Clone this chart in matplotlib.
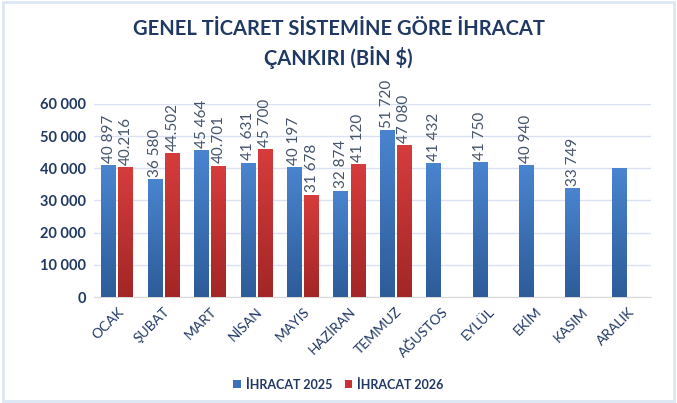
import numpy as np
import matplotlib
matplotlib.use('Agg')
import matplotlib.pyplot as plt
from matplotlib.patches import Rectangle
from matplotlib.colors import LinearSegmentedColormap

plt.rcParams['font.family'] = ['Lato', 'DejaVu Sans']

months = ['OCAK', 'ŞUBAT', 'MART', 'NİSAN', 'MAYIS', 'HAZİRAN', 'TEMMUZ',
          'AĞUSTOS', 'EYLÜL', 'EKİM', 'KASIM', 'ARALIK']
exp2025 = [40897, 36580, 45464, 41631, 40197, 32874, 51720,
           41432, 41750, 40940, 33749, 39900]
lab2025 = ['40 897', '36 580', '45 464', '41 631', '40 197', '32 874', '51 720',
           '41 432', '41 750', '40 940', '33 749', '']
exp2026 = [40216, 44502, 40701, 45700, 31678, 41120, 47080]
lab2026 = ['40.216', '44.502', '40.701', '45 700', '31 678', '41 120', '47 080']
yticks = [0, 10000, 20000, 30000, 40000, 50000, 60000]
ytlabels = ['0', '10 000', '20 000', '30 000', '40 000', '50 000', '60 000']

navy = '#1F3864'
lblc = '#44546A'
blue_cm = LinearSegmentedColormap.from_list('b', ['#2D5C99', '#4A84CF'])
red_cm = LinearSegmentedColormap.from_list('r', ['#A32626', '#D63C3C'])

fig = plt.figure(figsize=(6.77, 4.03), dpi=100)
fig.patches.append(Rectangle((0.004, 0.004), 0.992, 0.992, transform=fig.transFigure,
                             fill=False, edgecolor='#DCE6F4', linewidth=2))
ax = fig.add_axes([0.139, 0.263, 0.8226, 0.479])

w = 0.32
off = 0.185
x1 = np.arange(len(exp2025))
x2 = np.arange(len(exp2026))
grad = np.linspace(0, 1, 100).reshape(-1, 1)

b1 = ax.bar(x1 - off, exp2025, w, color='#3D72BA', label='İHRACAT 2025', zorder=2)
b2 = ax.bar(x2 + off, exp2026, w, color='#C83232', label='İHRACAT 2026', zorder=2)
for bars, cm in ((b1, blue_cm), (b2, red_cm)):
    for r in bars:
        x0, wd, h = r.get_x(), r.get_width(), r.get_height()
        ax.imshow(grad, cmap=cm, origin='lower', aspect='auto',
                  extent=(x0, x0 + wd, 0, h), zorder=3)

for xi, v, t in zip(x1 - off, exp2025, lab2025):
    ax.annotate(t, (xi, v), xytext=(0, 2), textcoords='offset points',
                rotation=90, ha='center', va='bottom', fontsize=11, color=lblc)
for xi, v, t in zip(x2 + off, exp2026, lab2026):
    ax.annotate(t, (xi, v), xytext=(0, 2), textcoords='offset points',
                rotation=90, ha='center', va='bottom', fontsize=11, color=lblc)

ax.set_xlim(-0.5, len(months) - 0.5)
ax.set_ylim(0, 60000)
ax.set_yticks(yticks)
ax.set_yticklabels(ytlabels, fontsize=10.5, fontweight='bold', color=navy)
ax.set_xticks(x1)
ax.set_xticklabels(months, rotation=45, ha='right', rotation_mode='anchor',
                   fontsize=10, color=navy)
ax.tick_params(length=0, pad=6)
ax.grid(axis='y', color='#D9E1F2', linewidth=1, zorder=0)
for s in ['top', 'right', 'left']:
    ax.spines[s].set_visible(False)
ax.spines['bottom'].set_color('#D9D9D9')
ax.set_axisbelow(True)

fig.text(0.5, 0.928, 'GENEL TİCARET SİSTEMİNE GÖRE İHRACAT', ha='center', va='center',
         fontsize=14.5, fontweight='bold', color=navy)
fig.text(0.5, 0.857, 'ÇANKIRI (BİN $)', ha='center', va='center',
         fontsize=14.5, fontweight='bold', color=navy)

leg = fig.legend(handles=[b1, b2], loc='center', bbox_to_anchor=(0.5, 0.045), ncol=2,
                 frameon=False, fontsize=9, handlelength=0.6, handleheight=0.6,
                 columnspacing=1.0, handletextpad=0.4)
for t in leg.get_texts():
    t.set_color(navy)
    t.set_fontweight('bold')

fig.savefig('out.png', dpi=100)
